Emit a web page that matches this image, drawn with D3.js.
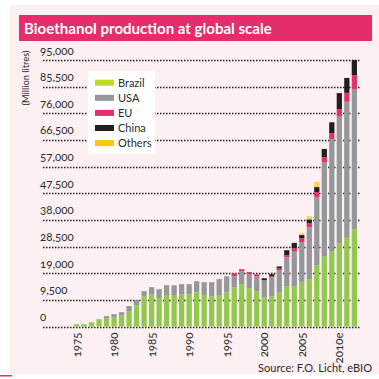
<!DOCTYPE html>
<html><head><meta charset="utf-8">
<script src="https://cdn.jsdelivr.net/npm/d3@7"></script>
<style>
html,body{margin:0;padding:0;background:#fff;}
svg{display:block;font-family:Lato,"Open Sans",sans-serif;}
.num{font-variant-numeric:oldstyle-nums;}
</style></head><body>
<svg id="chart" width="379" height="379"></svg>
<script>
const years = [1975,1976,1977,1978,1979,1980,1981,1982,1983,1984,
  1985,1986,1987,1988,1989,1990,1991,1992,1993,1994,
  1995,1996,1997,1998,1999,2000,2001,2002,2003,2004,
  2005,2006,2007,2008,2009,2010,2011,2012];
const brazil = [800,800,1500,2600,3000,3300,4000,5500,7600,10800,
  11500,10100,11200,11200,11500,11500,12200,11200,10800,11200,
  12200,14000,15100,13700,12600,10400,10800,12200,14400,14400,
  15800,16900,21900,25100,26900,29700,31900,34700];
const usa = [0,0,0,0,700,1100,1100,1800,1800,1800,
  2500,3200,3500,3500,3600,3600,3900,4600,5000,5700,
  5700,3900,4600,5000,5300,6100,6800,7800,10300,12500,
  14300,18500,24200,33500,39900,45300,48200,49900];
const eu = [0,0,0,0,0,0,0,0,0,0,
  0,0,0,0,0,0,0,0,0,0,
  0,1100,700,700,700,0,350,700,700,1100,
  1400,1400,1800,1800,2100,2500,3200,5000];
const china = [0,0,0,0,0,0,0,0,0,0,
  0,0,0,0,0,0,0,0,0,0,
  0,0,0,0,0,700,700,700,1800,1800,
  1100,1400,1800,2900,3900,5700,5300,5400];
const others = [0,0,0,0,0,0,0,0,0,0,
  0,0,0,0,0,0,0,0,0,0,
  0,0,0,0,0,0,0,0,0,0,
  700,1100,1800,0,0,0,0,0];
const seriesNames = ["Brazil","USA","EU","China","Others"];
const barColors = ["#92c84d","#959799","#e6306b","#231f20","#fdd24c"];
const legendColors = ["#c0d731","#959799","#e6306b","#231f20","#fcc512"];
const yTicks = [0,9500,19000,28500,38000,47500,57000,66500,76000,85500,95000];
const xTickYears = [1975,1980,1985,1990,1995,2000,2005,2010];
const xTickLabels = ["1975","1980","1985","1990","1995","2000","2005","2010e"];
const titleText = "Bioethanol production at global scale";
const yTitle = "(Million litres)";
const sourceText = "Source: F.O. Licht, eBIO";

const svg = d3.select("#chart");
const ink = "#2b2b2b";

function fitWidth(sel, target){
  const fs = parseFloat(sel.attr("font-size"));
  const w = sel.node().getComputedTextLength();
  if (w > 0) sel.attr("font-size", (fs*target/w).toFixed(2));
}

// panel
svg.append("rect").attr("x",10).attr("y",5).attr("width",369).attr("height",369).attr("fill","#fcf0f2");
svg.append("rect").attr("x",0).attr("y",375).attr("width",12).attr("height",1.5).attr("fill","#e52d6b");
// title bar
svg.append("rect").attr("x",19).attr("y",15).attr("width",353).attr("height",26).attr("fill","#e52d6b");
const tt = svg.append("text").attr("x",24).attr("y",34).attr("font-size",16).attr("font-weight","bold")
  .attr("fill","#fff").text(titleText);
fitWidth(tt, 248);

// data table
const table = years.map((yr,i)=>({year:yr, Brazil:brazil[i], USA:usa[i], EU:eu[i], China:china[i], Others:others[i]}));
const stack = d3.stack().keys(seriesNames)(table);

const x = d3.scaleBand().domain(years).range([72.75, 358.1]).paddingInner(0.3).paddingOuter(0.15);
const y = d3.scaleLinear().domain([0,95000]).range([326.5,60]);

// gridlines
svg.append("g").selectAll("line").data(yTicks).join("line")
  .attr("x1",43).attr("x2",360)
  .attr("y1",d=>Math.round(y(d))+0.5).attr("y2",d=>Math.round(y(d))+0.5)
  .attr("stroke","#231f20").attr("stroke-width",1.3).attr("stroke-dasharray","1.5,1.5");

// y axis labels
const yAxis = svg.append("g").attr("class","num")
  .call(d3.axisLeft(y).tickValues(yTicks).tickFormat(d3.format(",")).tickSize(0));
yAxis.select(".domain").remove();
yAxis.selectAll("text").attr("x",40).attr("dy",-6).attr("text-anchor","start")
  .attr("font-size",11.5).attr("font-family","Lato, 'Open Sans', sans-serif").attr("fill",ink);

// y title
const yt = svg.append("text").attr("transform","translate(29,78) rotate(-90)")
  .attr("text-anchor","middle").attr("font-size",11).attr("fill",ink).text(yTitle);
fitWidth(yt, 55);

// bars
svg.append("g").selectAll("g").data(stack).join("g")
  .attr("fill",(d,i)=>barColors[i])
  .selectAll("rect").data(d=>d.filter(s=>s[1]-s[0]>0)).join("rect")
  .attr("x",d=>x(d.data.year)).attr("width",x.bandwidth())
  .attr("y",d=>y(d[1])).attr("height",d=>y(d[0])-y(d[1]));

// x axis
const xAxis = svg.append("g").attr("transform","translate(0,326.5)").attr("class","num")
  .call(d3.axisBottom(x).tickValues(xTickYears).tickFormat((d,i)=>xTickLabels[i]).tickSize(0));
xAxis.select(".domain").remove();
xAxis.selectAll("text").attr("transform","rotate(-90)").attr("text-anchor","end")
  .attr("x",-6).attr("y",0).attr("dy","0.35em")
  .attr("font-size",11.5).attr("font-family","Lato, 'Open Sans', sans-serif").attr("fill",ink);

// legend
const lg = svg.append("g");
lg.append("rect").attr("x",88).attr("y",71).attr("width",67).attr("height",83).attr("fill","#fff");
seriesNames.forEach((n,i)=>{
  const cy = 82.7 + i*15.1;
  lg.append("rect").attr("x",95).attr("y",cy-3).attr("width",19).attr("height",6).attr("fill",legendColors[i]);
  lg.append("text").attr("x",118).attr("y",cy+4).attr("font-size",11).attr("fill",ink).text(n);
});

// source
const st = svg.append("text").attr("x",372).attr("y",372).attr("text-anchor","end")
  .attr("font-size",11.5).attr("fill",ink).text(sourceText);
fitWidth(st, 114);
</script>
</body></html>
